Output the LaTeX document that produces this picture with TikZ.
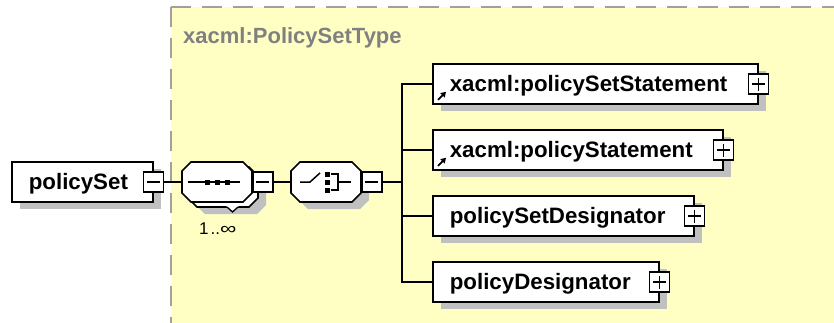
\documentclass[tikz,border=0pt]{standalone}
\usepackage{fontspec}
\setmainfont{Liberation Sans}
\usetikzlibrary{shadows,calc,arrows.meta}
\definecolor{bgyellow}{HTML}{FFFFC4}
\definecolor{shadowgray}{HTML}{C0C0C0}
\definecolor{dashgray}{HTML}{A0A0A0}
\definecolor{typegray}{HTML}{808080}
% octagon outline centred at (#1,#2), 70 x 40, chamfer 9
\newcommand{\octpath}[2]{(#1-35,#2-11) -- (#1-26,#2-20) -- (#1+26,#2-20) -- (#1+35,#2-11) -- (#1+35,#2+11) -- (#1+26,#2+20) -- (#1-26,#2+20) -- (#1-35,#2+11) -- cycle}
\begin{document}
\begin{tikzpicture}[x=1pt,y=-1pt,
  shad/.style={drop shadow={shadow xshift=8pt, shadow yshift=-7pt, fill=shadowgray, opacity=1}},
  elem/.style={draw=black, line width=1.6pt, fill=white, rectangle, minimum height=40pt,
    inner xsep=17pt, inner ysep=0pt, text height=14pt, text depth=0pt, anchor=west, align=left,
    font=\fontsize{22.3}{26}\selectfont\bfseries, shad},
  octanchor/.style={rectangle, draw=none, minimum width=70pt, minimum height=40pt, inner sep=0pt},
  octline/.style={draw=black, line width=1.6pt, fill=white},
  octshadow/.style={fill=shadowgray},
  expander/.style={draw=black, line width=1.3pt, fill=white, rectangle, minimum size=20pt, inner sep=0pt},
  minus/.style={expander, path picture={
    \draw[line width=1.3pt] ([xshift=-6.5pt]path picture bounding box.center) -- ([xshift=6.5pt]path picture bounding box.center);}},
  plus/.style={expander, path picture={
    \draw[line width=1.3pt] ([xshift=-6.5pt]path picture bounding box.center) -- ([xshift=6.5pt]path picture bounding box.center);
    \draw[line width=1.3pt] ([yshift=-6.5pt]path picture bounding box.center) -- ([yshift=6.5pt]path picture bounding box.center);}},
  conn/.style={draw=black, line width=1.5pt},
  icon/.style={line width=1.5pt},
  refarrow/.style={line width=1.8pt, -{Triangle[length=5pt,width=6pt]}}
]
\useasboundingbox (0,0) rectangle (834,322);
% type background
\fill[bgyellow] (171,7) rectangle (840,330);
\draw[dashgray, line width=2.5pt, dash pattern=on 20pt off 11pt] (171,7) -- (840,7);
\draw[dashgray, line width=2.5pt, dash pattern=on 20pt off 11pt] (171,7) -- (171,330);
\node[anchor=base west, inner sep=0pt, text=typegray, font=\fontsize{22}{26}\selectfont\bfseries] (typename) at (183,43) {xacml:PolicySetType};

% root element
\node[elem, text width=107pt] (ps) at (11,182) {policySet};
\node[minus] (psx) at (ps.east) {};

% sequence (1..inf): stacked octagons
\fill[octshadow] \octpath{231}{194};
\path[octline] \octpath{223}{187};
\draw[white, fill=white, line width=1.3pt] (227,206) -- (232.5,212) -- (238,206);
\draw[black, line width=1.3pt] (227,207) -- (232.5,212) -- (238,207);
\path[octline] \octpath{217}{182};
\node[octanchor] (seqback) at (223,187) {};
\node[octanchor] (seq) at (217,182) {};
\begin{scope}[shift={(seq.center)}]
  \draw[icon] (-29,0) -- (23,0);
  \foreach \dx in {-10,0,10} \fill (\dx-2.5,-2.5) rectangle (\dx+2.5,2.5);
\end{scope}
\node[minus, anchor=west] (seqx) at (seq.east) {};
\node[anchor=base west, inner sep=0pt, font=\fontsize{17}{20}\selectfont] (mult) at (199,234) {1\hspace{2pt}..\scalebox{1.35}[1]{∞}};

% choice
\fill[octshadow] \octpath{334}{189};
\path[octline] \octpath{326}{182};
\node[octanchor] (cho) at (326,182) {};
\begin{scope}[shift={(cho.center)}]
  \draw[icon] (-26,0) -- (-16,0) -- (-6,-9);
  \foreach \dy in {-8,0,8} \fill (-1,\dy-2.5) rectangle (4,\dy+2.5);
  \draw[icon] (5,-8) -- (12,-8) -- (12,8) -- (5,8);
  \draw[icon] (12,0) -- (25,0);
\end{scope}
\node[minus, anchor=west] (chox) at (cho.east) {};

% children
\node[elem, text width=291pt] (c1) at (432,84) {xacml:policySetStatement};
\node[elem, text width=256pt] (c2) at (432,150) {xacml:policyStatement};
\node[elem, text width=227pt] (c3) at (432,216) {policySetDesignator};
\node[elem, text width=192pt] (c4) at (432,282) {policyDesignator};
\draw[refarrow] ($(c1.south west)+(6,-5)$) -- ++(8,-8);
\draw[refarrow] ($(c2.south west)+(6,-5)$) -- ++(8,-8);
\node[plus] (c1x) at (c1.east) {};
\node[plus] (c2x) at (c2.east) {};
\node[plus] (c3x) at (c3.east) {};
\node[plus] (c4x) at (c4.east) {};

% connectors
\coordinate (trunk) at (402,182);
\draw[conn] (psx.east) -- (seq.west);
\draw[conn] (seqx.east) -- (cho.west);
\draw[conn] (chox.east) -- (trunk);
\draw[conn] (trunk) |- (c1.west);
\draw[conn] (trunk) |- (c2.west);
\draw[conn] (trunk) |- (c3.west);
\draw[conn] (trunk) |- (c4.west);
\end{tikzpicture}
\end{document}
